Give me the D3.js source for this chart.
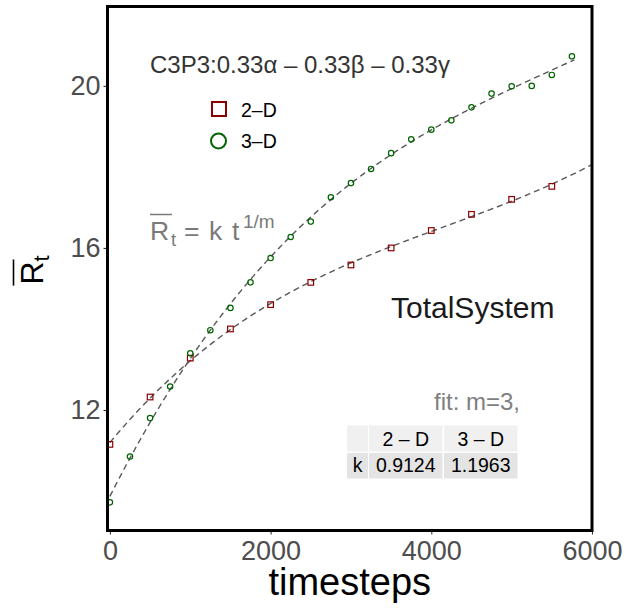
<!DOCTYPE html>
<html>
<head>
<meta charset="utf-8">
<script src="https://cdn.jsdelivr.net/npm/d3@7"></script>
<style>
  body { margin: 0; background: #fff; }
  text { font-family: "Liberation Sans", Arial, sans-serif; }
</style>
</head>
<body>
<div id="chart"></div>
<script>
// data
const time2D = [0, 500, 1000, 1500, 2000, 2500, 3000, 3500, 4000, 4500, 5000, 5500];
const r2D = [11.15, 12.32, 13.28, 14.0, 14.6, 15.15, 15.58, 16.0, 16.43, 16.83, 17.2, 17.52];

const time3D = [0, 250, 500, 750, 1000, 1250, 1500, 1750, 2000, 2250, 2500, 2750,
  3000, 3250, 3500, 3750, 4000, 4250, 4500, 4750, 5000, 5250, 5500, 5750];
const r3D = [9.72, 10.85, 11.8, 12.58, 13.4, 13.97, 14.52, 15.15, 15.75, 16.27, 16.65, 17.25,
  17.6, 17.95, 18.34, 18.68, 18.92, 19.15, 19.47, 19.81, 19.99, 20.0, 20.27, 20.73];

const xTicks = [0, 2000, 4000, 6000];
const yTicks = [12, 16, 20];
const tableCols = ["", "2 \u2013 D", "3 \u2013 D"];
const tableK = ["k", "0.9124", "1.1963"];
const legendLabels = ["2\u2013D", "3\u2013D"];

// Set dimensions and margins
const W = 626, H = 610;
const margin = { top: 6.5, right: 34, bottom: 79.5, left: 107.5 };
const width = W - margin.left - margin.right;
const height = H - margin.top - margin.bottom;

const svg = d3.select("#chart")
  .append("svg")
    .attr("width", W)
    .attr("height", H)
  .append("g")
    .attr("transform", `translate(${margin.left},${margin.top})`);

const xScale = d3.scaleLinear().domain([-30, 6000]).range([0, width]);
const yScale = d3.scaleLinear().domain([9.025, 21.96]).range([height, 0]);

// least squares cubic fit (on scaled time) used for the dashed fit curves
function fitCurve(ts, rs, t0, t1) {
  const deg = 3, n = deg + 1;
  const A = Array.from({ length: n }, () => new Array(n + 1).fill(0));
  ts.forEach((t, i) => {
    const u = t / 6000;
    for (let r = 0; r < n; r++) {
      for (let c = 0; c < n; c++) A[r][c] += Math.pow(u, r + c);
      A[r][n] += Math.pow(u, r) * rs[i];
    }
  });
  for (let p = 0; p < n; p++) {
    let m = p;
    for (let r = p + 1; r < n; r++) if (Math.abs(A[r][p]) > Math.abs(A[m][p])) m = r;
    [A[p], A[m]] = [A[m], A[p]];
    for (let r = 0; r < n; r++) {
      if (r === p) continue;
      const f = A[r][p] / A[p][p];
      for (let c = p; c <= n; c++) A[r][c] -= f * A[p][c];
    }
  }
  const coef = A.map((row, i) => row[n] / row[i]);
  return d3.range(t0, t1 + 1, 20).map(t => {
    const u = t / 6000;
    return [t, coef.reduce((s, c, i) => s + c * Math.pow(u, i), 0)];
  });
}

const line = d3.line()
  .x(d => xScale(d[0]))
  .y(d => yScale(d[1]))
  .curve(d3.curveMonotoneX);

svg.append("clipPath").attr("id", "clip")
  .append("rect").attr("width", width).attr("height", height);

const plot = svg.append("g").attr("clip-path", "url(#clip)");

plot.append("path")
  .datum(fitCurve(time2D, r2D, 0, 6000))
  .attr("d", line)
  .attr("fill", "none")
  .attr("stroke", "#595959")
  .attr("stroke-width", 1.4)
  .attr("stroke-dasharray", "6,4");

plot.append("path")
  .datum(fitCurve(time3D, r3D, 0, 5790))
  .attr("d", line)
  .attr("fill", "none")
  .attr("stroke", "#595959")
  .attr("stroke-width", 1.4)
  .attr("stroke-dasharray", "6,4");

// points
plot.selectAll(".sq")
  .data(time2D)
  .enter().append("rect")
  .attr("class", "sq")
  .attr("x", (d, i) => xScale(d) - 2.8)
  .attr("y", (d, i) => yScale(r2D[i]) - 2.8)
  .attr("width", 5.6)
  .attr("height", 5.6)
  .attr("fill", "none")
  .attr("stroke", "#8b0000")
  .attr("stroke-width", 1.2);

plot.selectAll(".ci")
  .data(time3D)
  .enter().append("circle")
  .attr("class", "ci")
  .attr("cx", d => xScale(d))
  .attr("cy", (d, i) => yScale(r3D[i]))
  .attr("r", 2.7)
  .attr("fill", "none")
  .attr("stroke", "#006400")
  .attr("stroke-width", 1.2);

// axes
const xAxis = svg.append("g")
  .attr("transform", "translate(0," + height + ")")
  .call(d3.axisBottom(xScale).tickValues(xTicks).tickSize(4).tickPadding(6).tickFormat(d3.format("d")));
const yAxis = svg.append("g")
  .call(d3.axisLeft(yScale).tickValues(yTicks).tickSize(4).tickPadding(3));

[xAxis, yAxis].forEach(a => {
  a.select(".domain").remove();
  a.selectAll(".tick line").attr("stroke", "#333").attr("stroke-width", 1.1);
  a.selectAll(".tick text")
    .style("font-family", "Liberation Sans, Arial, sans-serif")
    .style("font-size", "27px")
    .attr("fill", "#4d4d4d");
});

// panel border
svg.append("rect")
  .attr("width", width)
  .attr("height", height)
  .attr("fill", "none")
  .attr("stroke", "#000")
  .attr("stroke-width", 3);

// x label
svg.append("text")
  .attr("x", width / 2)
  .attr("y", 595 - margin.top)
  .attr("text-anchor", "middle")
  .style("font-size", "38px")
  .attr("fill", "#000")
  .text("timesteps");

// y label: R bar with subscript t
const yl = d3.select("svg").append("g").attr("transform", "translate(43,270) rotate(-90)");
const ylt = yl.append("text").attr("text-anchor", "middle").style("font-size", "32px").attr("fill", "#000");
ylt.append("tspan").text("R");
ylt.append("tspan").attr("dy", 6).style("font-size", "22px").text("t");
const yb = ylt.node().getBBox();
const rW = 32 * 0.722;
yl.append("line")
  .attr("x1", yb.x - 1).attr("x2", yb.x + rW + 2)
  .attr("y1", -29.5).attr("y2", -29.5)
  .attr("stroke", "#000").attr("stroke-width", 1.6);

const root = d3.select("svg");

// annotation text
root.append("text")
  .attr("x", 150).attr("y", 73)
  .style("font-size", "24px")
  .attr("fill", "#333")
  .text("C3P3:0.33\u03b1 \u2013 0.33\u03b2 \u2013 0.33\u03b3");

// legend
root.append("rect")
  .attr("x", 212).attr("y", 102).attr("width", 14).attr("height", 14)
  .attr("fill", "none").attr("stroke", "#8b0000").attr("stroke-width", 2);
root.append("circle")
  .attr("cx", 218.5).attr("cy", 141).attr("r", 7.5)
  .attr("fill", "none").attr("stroke", "#006400").attr("stroke-width", 2);
root.selectAll(".leg")
  .data(legendLabels)
  .enter().append("text")
  .attr("class", "leg")
  .attr("x", 241)
  .attr("y", (d, i) => 117 + i * 31)
  .style("font-size", "19.5px")
  .attr("fill", "#000")
  .text(d => d);

// formula  R_t = k t^(1/m)
const fcol = "#7a7a7a";
const fparts = [
  { s: "R", x: 150, y: 240, f: 26.5 },
  { s: "t", x: 171, y: 246, f: 18.5 },
  { s: "=", x: 184, y: 240, f: 26.5 },
  { s: "k", x: 209, y: 240, f: 26.5 },
  { s: "t", x: 232, y: 240, f: 26.5 },
  { s: "1/m", x: 243, y: 228, f: 19 }
];
root.selectAll(".fml")
  .data(fparts)
  .enter().append("text")
  .attr("class", "fml")
  .attr("x", d => d.x).attr("y", d => d.y)
  .style("font-size", d => d.f + "px")
  .attr("fill", fcol)
  .text(d => d.s);
root.append("line")
  .attr("x1", 150).attr("x2", 172)
  .attr("y1", 214.5).attr("y2", 214.5)
  .attr("stroke", fcol).attr("stroke-width", 1.5);

root.append("text")
  .attr("x", 391).attr("y", 317.5)
  .style("font-size", "30px")
  .attr("fill", "#1a1a1a")
  .text("TotalSystem");

root.append("text")
  .attr("x", 520).attr("y", 410)
  .attr("text-anchor", "end")
  .style("font-size", "24px")
  .attr("fill", "#7f7f7f")
  .text("fit: m=3,");

// table
const colX = [347, 369, 444];
const colW = [21, 73.5, 73.5];
const rowY = [425.5, 453];
const rowH = [26, 25.5];
const rowFill = ["#f0f0f0", "#e4e4e4"];
[tableCols, tableK].forEach((row, r) => {
  row.forEach((cell, c) => {
    root.append("rect")
      .attr("x", colX[c]).attr("y", rowY[r])
      .attr("width", colW[c]).attr("height", rowH[r])
      .attr("fill", rowFill[r]);
    root.append("text")
      .attr("x", colX[c] + colW[c] / 2)
      .attr("y", rowY[r] + (r === 0 ? 20.5 : 19))
      .attr("text-anchor", "middle")
      .style("font-size", "19.5px")
      .attr("fill", "#000")
      .text(cell);
  });
});
</script>
</body>
</html>
